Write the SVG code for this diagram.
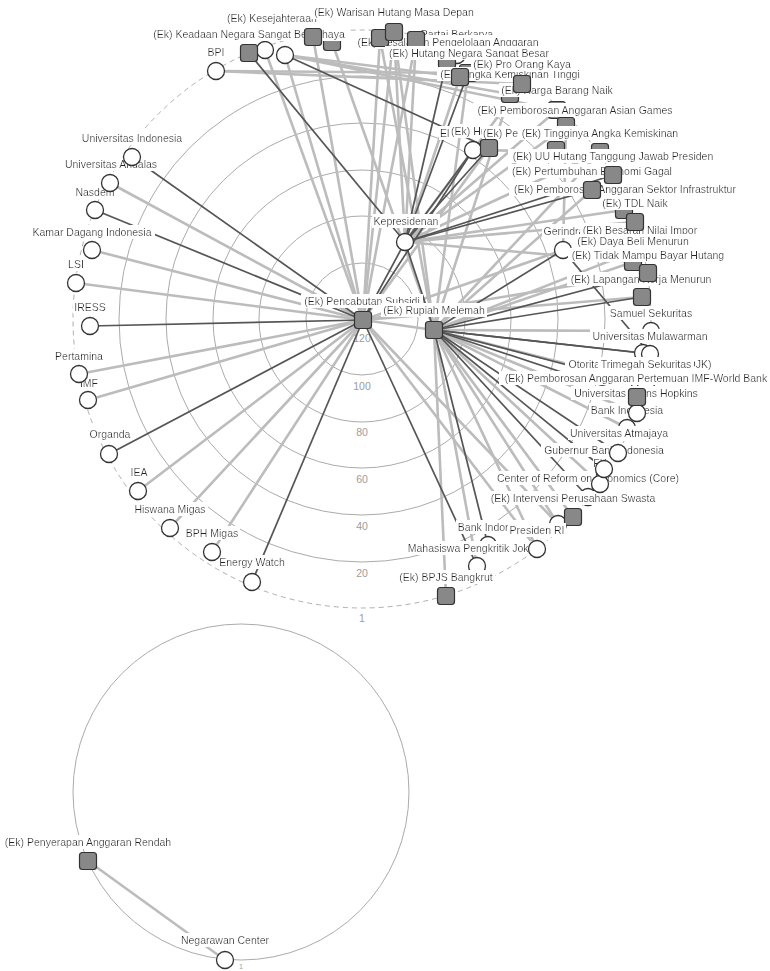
<svg xmlns="http://www.w3.org/2000/svg" width="770" height="971" viewBox="0 0 770 971">
<defs>
<filter id="bg" x="-0.02" y="-0.04" width="1.04" height="1.08"><feFlood flood-color="#ffffff"/><feComposite in="SourceGraphic" operator="over"/></filter>
<style>
.ring{fill:none;stroke:#ababab;stroke-width:1}
.dash{fill:none;stroke:#b0b0b0;stroke-width:1;stroke-dasharray:5 4}
.rl{font-family:"Liberation Sans",Arial,sans-serif;font-size:10.5px;fill:#9c9c9c;text-anchor:middle}
.lbl{font-family:"Liberation Sans",Arial,sans-serif;font-size:10.5px;fill:#222;text-anchor:middle;filter:url(#bg)}
.st{text-anchor:start}
.c{fill:#fff;stroke:#333;stroke-width:1.3}
.s{fill:#888;stroke:#333;stroke-width:1.2}
.d{stroke:#555;stroke-width:1.7;fill:none}
.l{stroke:#bcbcbc;stroke-width:2.6;fill:none}
</style>
</defs>
<rect width="770" height="971" fill="#fff"/>
<g id="rings">
<circle class="ring" cx="362" cy="319" r="56"/>
<circle class="ring" cx="362" cy="319" r="103"/>
<circle class="ring" cx="362" cy="319" r="149"/>
<circle class="ring" cx="362" cy="319" r="196"/>
<circle class="ring" cx="362" cy="319" r="243"/>
<circle class="dash" cx="362" cy="319" r="289"/>
<text class="rl" x="362" y="342">120</text>
<text class="rl" x="362" y="390">100</text>
<text class="rl" x="362" y="436">80</text>
<text class="rl" x="362" y="483">60</text>
<text class="rl" x="362" y="530">40</text>
<text class="rl" x="362" y="577">20</text>
<text class="rl" x="362" y="622">1</text>
<circle class="ring" cx="241" cy="792" r="168"/>
<text class="rl" x="241" y="969" style="font-size:7px">1</text>
</g>
<g id="edges">
<line class="l" x1="363" y1="320" x2="110" y2="183"/>
<line class="l" x1="363" y1="320" x2="92" y2="250"/>
<line class="l" x1="363" y1="320" x2="76" y2="283"/>
<line class="l" x1="363" y1="320" x2="79" y2="374"/>
<line class="l" x1="363" y1="320" x2="88" y2="400"/>
<line class="l" x1="363" y1="320" x2="138" y2="491"/>
<line class="l" x1="363" y1="320" x2="170" y2="528"/>
<line class="l" x1="363" y1="320" x2="212" y2="552"/>
<line class="l" x1="363" y1="320" x2="285" y2="55"/>
<line class="l" x1="363" y1="320" x2="265" y2="50"/>
<line class="l" x1="363" y1="320" x2="434" y2="330"/>
<line class="l" x1="363" y1="320" x2="537" y2="549"/>
<line class="l" x1="363" y1="320" x2="558" y2="524"/>
<line class="l" x1="363" y1="320" x2="394" y2="32"/>
<line class="l" x1="363" y1="320" x2="380" y2="38"/>
<line class="l" x1="363" y1="320" x2="416" y2="40"/>
<line class="l" x1="363" y1="320" x2="563" y2="250"/>
<line class="l" x1="363" y1="320" x2="648" y2="273"/>
<line class="l" x1="363" y1="320" x2="642" y2="297"/>
<line class="l" x1="363" y1="320" x2="489" y2="148"/>
<line class="l" x1="363" y1="320" x2="313" y2="37"/>
<line class="l" x1="434" y1="330" x2="651" y2="331"/>
<line class="l" x1="434" y1="330" x2="646" y2="384"/>
<line class="l" x1="434" y1="330" x2="637" y2="413"/>
<line class="l" x1="434" y1="330" x2="627" y2="428"/>
<line class="l" x1="434" y1="330" x2="600" y2="484"/>
<line class="l" x1="434" y1="330" x2="573" y2="517"/>
<line class="l" x1="434" y1="330" x2="558" y2="524"/>
<line class="l" x1="434" y1="330" x2="537" y2="549"/>
<line class="l" x1="434" y1="330" x2="477" y2="566"/>
<line class="l" x1="434" y1="330" x2="446" y2="596"/>
<line class="l" x1="434" y1="330" x2="633" y2="262"/>
<line class="l" x1="434" y1="330" x2="640" y2="249"/>
<line class="l" x1="434" y1="330" x2="394" y2="32"/>
<line class="l" x1="434" y1="330" x2="380" y2="38"/>
<line class="l" x1="434" y1="330" x2="468" y2="73"/>
<line class="l" x1="434" y1="330" x2="510" y2="94"/>
<line class="l" x1="434" y1="330" x2="600" y2="152"/>
<line class="l" x1="434" y1="330" x2="592" y2="190"/>
<line class="l" x1="405" y1="242" x2="394" y2="32"/>
<line class="l" x1="405" y1="242" x2="416" y2="40"/>
<line class="l" x1="405" y1="242" x2="460" y2="77"/>
<line class="l" x1="405" y1="242" x2="600" y2="152"/>
<line class="l" x1="405" y1="242" x2="635" y2="222"/>
<line class="l" x1="405" y1="242" x2="633" y2="262"/>
<line class="l" x1="405" y1="242" x2="557" y2="110"/>
<line class="l" x1="405" y1="242" x2="566" y2="126"/>
<line class="l" x1="405" y1="242" x2="624" y2="210"/>
<line class="l" x1="405" y1="242" x2="522" y2="84"/>
<line class="l" x1="285" y1="55" x2="460" y2="77"/>
<line class="l" x1="285" y1="55" x2="557" y2="110"/>
<line class="l" x1="285" y1="55" x2="510" y2="94"/>
<line class="l" x1="216" y1="71" x2="468" y2="73"/>
<line class="l" x1="216" y1="71" x2="522" y2="84"/>
<line class="l" x1="332" y1="42" x2="434" y2="330"/>
<line class="l" x1="473" y1="150" x2="600" y2="152"/>
<line class="l" x1="566" y1="126" x2="563" y2="250"/>
<line class="d" x1="363" y1="320" x2="132" y2="157"/>
<line class="d" x1="363" y1="320" x2="95" y2="210"/>
<line class="d" x1="363" y1="320" x2="90" y2="326"/>
<line class="d" x1="363" y1="320" x2="109" y2="454"/>
<line class="d" x1="363" y1="320" x2="252" y2="582"/>
<line class="d" x1="363" y1="320" x2="477" y2="566"/>
<line class="d" x1="363" y1="320" x2="405" y2="242"/>
<line class="d" x1="363" y1="320" x2="473" y2="150"/>
<line class="d" x1="434" y1="330" x2="405" y2="242"/>
<line class="d" x1="434" y1="330" x2="563" y2="250"/>
<line class="d" x1="434" y1="330" x2="642" y2="297"/>
<line class="d" x1="434" y1="330" x2="648" y2="273"/>
<line class="d" x1="434" y1="330" x2="650" y2="354"/>
<line class="d" x1="434" y1="330" x2="640" y2="384"/>
<line class="d" x1="434" y1="330" x2="618" y2="453"/>
<line class="d" x1="434" y1="330" x2="604" y2="469"/>
<line class="d" x1="434" y1="330" x2="588" y2="497"/>
<line class="d" x1="434" y1="330" x2="488" y2="545"/>
<line class="d" x1="434" y1="330" x2="637" y2="397"/>
<line class="d" x1="434" y1="330" x2="643" y2="353"/>
<line class="d" x1="405" y1="242" x2="249" y2="53"/>
<line class="d" x1="405" y1="242" x2="447" y2="60"/>
<line class="d" x1="405" y1="242" x2="468" y2="73"/>
<line class="d" x1="405" y1="242" x2="489" y2="148"/>
<line class="d" x1="405" y1="242" x2="592" y2="190"/>
<line class="d" x1="405" y1="242" x2="613" y2="175"/>
<line class="d" x1="405" y1="242" x2="473" y2="150"/>
<line class="d" x1="285" y1="55" x2="489" y2="148"/>
<line class="d" x1="563" y1="250" x2="650" y2="354"/>
<line class="l" x1="88" y1="861" x2="225" y2="960"/>
</g>
<g id="n_ew"><text class="lbl" x="252" y="566">Energy Watch</text><circle class="c" cx="252" cy="582" r="8.5"/></g>
<g id="n_bph"><text class="lbl" x="212" y="537">BPH Migas</text><circle class="c" cx="212" cy="552" r="8.5"/></g>
<g id="n_hiswana"><text class="lbl" x="170" y="513">Hiswana Migas</text><circle class="c" cx="170" cy="528" r="8.5"/></g>
<g id="n_iea"><text class="lbl" x="139" y="476">IEA</text><circle class="c" cx="138" cy="491" r="8.5"/></g>
<g id="n_organda"><text class="lbl" x="110" y="438">Organda</text><circle class="c" cx="109" cy="454" r="8.5"/></g>
<g id="n_imf"><text class="lbl" x="89" y="387">IMF</text><circle class="c" cx="88" cy="400" r="8.5"/></g>
<g id="n_pertamina"><text class="lbl" x="79" y="360">Pertamina</text><circle class="c" cx="79" cy="374" r="8.5"/></g>
<g id="n_iress"><text class="lbl" x="90" y="311">IRESS</text><circle class="c" cx="90" cy="326" r="8.5"/></g>
<g id="n_lsi"><text class="lbl" x="76" y="268">LSI</text><circle class="c" cx="76" cy="283" r="8.5"/></g>
<g id="n_kadin"><text class="lbl" x="92" y="236">Kamar Dagang Indonesia</text><circle class="c" cx="92" cy="250" r="8.5"/></g>
<g id="n_nasdem"><text class="lbl" x="95" y="196">Nasdem</text><circle class="c" cx="95" cy="210" r="8.5"/></g>
<g id="n_unand"><text class="lbl" x="111" y="168">Universitas Andalas</text><circle class="c" cx="110" cy="183" r="8.5"/></g>
<g id="n_ui"><text class="lbl" x="132" y="142">Universitas Indonesia</text><circle class="c" cx="132" cy="157" r="8.5"/></g>
<g id="n_bpi"><text class="lbl" x="216" y="56">BPI</text><circle class="c" cx="216" cy="71" r="8.5"/></g>
<g id="n_partai"><circle class="c" cx="457" cy="55" r="8.5"/><text class="lbl" x="457" y="38">Partai Berkarya</text></g>
<g id="n_c265"><circle class="c" cx="265" cy="50" r="8.5"/></g>
<g id="n_c285"><circle class="c" cx="285" cy="55" r="8.5"/></g>
<g id="n_s332"><rect class="s" x="323.5" y="33.5" width="17" height="17" rx="3"/></g>
<g id="n_keadaan"><text class="lbl" x="249" y="38">(Ek) Keadaan Negara Sangat Berbahaya</text><rect class="s" x="240.5" y="44.5" width="17" height="17" rx="3"/></g>
<g id="n_kesejahteraan"><text class="lbl st" x="227" y="22">(Ek) Kesejahteraan</text><rect class="s" x="304.5" y="28.5" width="17" height="17" rx="3"/></g>
<g id="n_warisan"><text class="lbl" x="394" y="16">(Ek) Warisan Hutang Masa Depan</text></g>
<g id="n_kesalahan"><text class="lbl" x="448" y="46">(Ek) Kesalahan Pengelolaan Anggaran</text><rect class="s" x="438.5" y="51.5" width="17" height="17" rx="3"/></g>
<g id="n_program"><rect class="s" x="371.5" y="29.5" width="17" height="17" rx="3"/></g>
<g id="n_warisan_node"><rect class="s" x="385.5" y="23.5" width="17" height="17" rx="3"/></g>
<g id="n_s415"><rect class="s" x="407.5" y="31.5" width="17" height="17" rx="3"/></g>
<g id="n_hutang"><text class="lbl" x="469" y="57">(Ek) Hutang Negara Sangat Besar</text><rect class="s" x="459.5" y="64.5" width="17" height="17" rx="3"/></g>
<g id="n_angka"><text class="lbl" x="510" y="78">(Ek) Angka Kemiskinan Tinggi</text><rect class="s" x="501.5" y="85.5" width="17" height="17" rx="3"/></g>
<g id="n_s460"><rect class="s" x="451.5" y="68.5" width="17" height="17" rx="3"/></g>
<g id="n_harga"><text class="lbl" x="557" y="94">(Ek) Harga Barang Naik</text><rect class="s" x="548.5" y="101.5" width="17" height="17" rx="3"/></g>
<g id="n_proorang"><text class="lbl" x="522" y="68">(Ek) Pro Orang Kaya</text><rect class="s" x="513.5" y="75.5" width="17" height="17" rx="3"/></g>
<g id="n_asian"><text class="lbl" x="575" y="114">(Ek) Pemborosan Anggaran Asian Games</text><rect class="s" x="557.5" y="117.5" width="17" height="17" rx="3"/></g>
<g id="n_el"><text class="lbl st" x="440" y="137">El</text><circle class="c" cx="473" cy="150" r="8.5"/></g>
<g id="n_hu"><rect class="s" x="547.5" y="141.5" width="17" height="17" rx="3"/><text class="lbl st" x="451" y="135">(Ek) Hu</text></g>
<g id="n_pe"><text class="lbl st" x="483" y="137">(Ek) Pe</text><rect class="s" x="480.5" y="139.5" width="17" height="17" rx="3"/></g>
<g id="n_tinggi"><text class="lbl" x="600" y="137">(Ek) Tingginya Angka Kemiskinan</text><rect class="s" x="591.5" y="143.5" width="17" height="17" rx="3"/></g>
<g id="n_sektor"><text class="lbl" x="625" y="193">(Ek) Pemborosan Anggaran Sektor Infrastruktur</text><rect class="s" x="615.5" y="201.5" width="17" height="17" rx="3"/></g>
<g id="n_pertumbuhan"><text class="lbl" x="592" y="175">(Ek) Pertumbuhan Ekonomi Gagal</text><rect class="s" x="583.5" y="181.5" width="17" height="17" rx="3"/></g>
<g id="n_uu"><text class="lbl" x="613" y="160">(Ek) UU Hutang Tanggung Jawab Presiden</text><rect class="s" x="604.5" y="166.5" width="17" height="17" rx="3"/></g>
<g id="n_gerindra"><text class="lbl" x="564" y="235">Gerindra</text><circle class="c" cx="563" cy="250" r="8.5"/></g>
<g id="n_besaran"><text class="lbl" x="640" y="234">(Ek) Besaran Nilai Impor</text><rect class="s" x="631.5" y="240.5" width="17" height="17" rx="3"/></g>
<g id="n_tdl"><text class="lbl" x="635" y="207">(Ek) TDL Naik</text><rect class="s" x="626.5" y="213.5" width="17" height="17" rx="3"/></g>
<g id="n_dayabeli"><text class="lbl" x="633" y="245">(Ek) Daya Beli Menurun</text><rect class="s" x="624.5" y="253.5" width="17" height="17" rx="3"/></g>
<g id="n_lapangan"><text class="lbl" x="641" y="283">(Ek) Lapangan Kerja Menurun</text><rect class="s" x="633.5" y="288.5" width="17" height="17" rx="3"/></g>
<g id="n_tidak"><text class="lbl" x="648" y="259">(Ek) Tidak Mampu Bayar Hutang</text><rect class="s" x="639.5" y="264.5" width="17" height="17" rx="3"/></g>
<g id="n_samuel"><text class="lbl" x="651" y="317">Samuel Sekuritas</text><circle class="c" cx="651" cy="331" r="8.5"/></g>
<g id="n_mulawarman"><text class="lbl" x="650" y="340">Universitas Mulawarman</text><circle class="c" cx="643" cy="353" r="8.5"/><circle class="c" cx="650" cy="354" r="8.5"/></g>
<g id="n_ojk"><text class="lbl" x="640" y="368">Otoritas Jasa Keuangan (OJK)</text><circle class="c" cx="640" cy="384" r="8.5"/></g>
<g id="n_trimegah"><text class="lbl" x="646" y="368">Trimegah Sekuritas</text><circle class="c" cx="646" cy="384" r="8.5"/></g>
<g id="n_bi"><text class="lbl" x="627" y="414">Bank Indonesia</text><circle class="c" cx="627" cy="428" r="8.5"/></g>
<g id="n_jhu"><text class="lbl" x="636" y="397">Universitas Johns Hopkins</text><circle class="c" cx="637" cy="413" r="8.5"/></g>
<g id="n_imfwb"><text class="lbl" x="636" y="382">(Ek) Pemborosan Anggaran Pertemuan IMF-World Bank</text><rect class="s" x="628.5" y="388.5" width="17" height="17" rx="3"/></g>
<g id="n_core"><text class="lbl" x="588" y="482">Center of Reform on Economics (Core)</text><circle class="c" cx="588" cy="497" r="8.5"/></g>
<g id="n_bpj"><circle class="c" cx="558" cy="524" r="8.5"/></g>
<g id="n_intervensi"><text class="lbl" x="573" y="502">(Ek) Intervensi Perusahaan Swasta</text><rect class="s" x="564.5" y="508.5" width="17" height="17" rx="3"/></g>
<g id="n_fx"><text class="lbl" x="600" y="467">FX</text><circle class="c" cx="600" cy="484" r="8.5"/></g>
<g id="n_gubernur"><text class="lbl" x="604" y="454">Gubernur Bank Indonesia</text><circle class="c" cx="604" cy="469" r="8.5"/></g>
<g id="n_atmajaya"><text class="lbl" x="619" y="437">Universitas Atmajaya</text><circle class="c" cx="618" cy="453" r="8.5"/></g>
<g id="n_bankindo2"><text class="lbl" x="494" y="531">Bank Indonesia</text><circle class="c" cx="488" cy="545" r="8.5"/></g>
<g id="n_mahasiswa"><text class="lbl" x="476" y="552">Mahasiswa Pengkritik Jokowi</text><circle class="c" cx="477" cy="566" r="8.5"/></g>
<g id="n_presiden"><text class="lbl" x="537" y="534">Presiden RI</text><circle class="c" cx="537" cy="549" r="8.5"/></g>
<g id="n_bpjs"><text class="lbl" x="446" y="581">(Ek) BPJS Bangkrut</text><rect class="s" x="437.5" y="587.5" width="17" height="17" rx="3"/></g>
<g id="n_kepresidenan"><text class="lbl" x="406" y="225">Kepresidenan</text><circle class="c" cx="405" cy="242" r="8.5"/></g>
<g id="n_pencabutan"><text class="lbl" x="362" y="305">(Ek) Pencabutan Subsidi</text><rect class="s" x="354.5" y="311.5" width="17" height="17" rx="3"/></g>
<g id="n_rupiah"><text class="lbl" x="434" y="314">(Ek) Rupiah Melemah</text><rect class="s" x="425.5" y="321.5" width="17" height="17" rx="3"/></g>
<g id="n_penyerapan"><text class="lbl" x="88" y="846">(Ek) Penyerapan Anggaran Rendah</text><rect class="s" x="79.5" y="852.5" width="17" height="17" rx="3"/></g>
<g id="n_negarawan"><text class="lbl" x="225" y="944">Negarawan Center</text><circle class="c" cx="225" cy="960" r="8.5"/></g>
</svg>
